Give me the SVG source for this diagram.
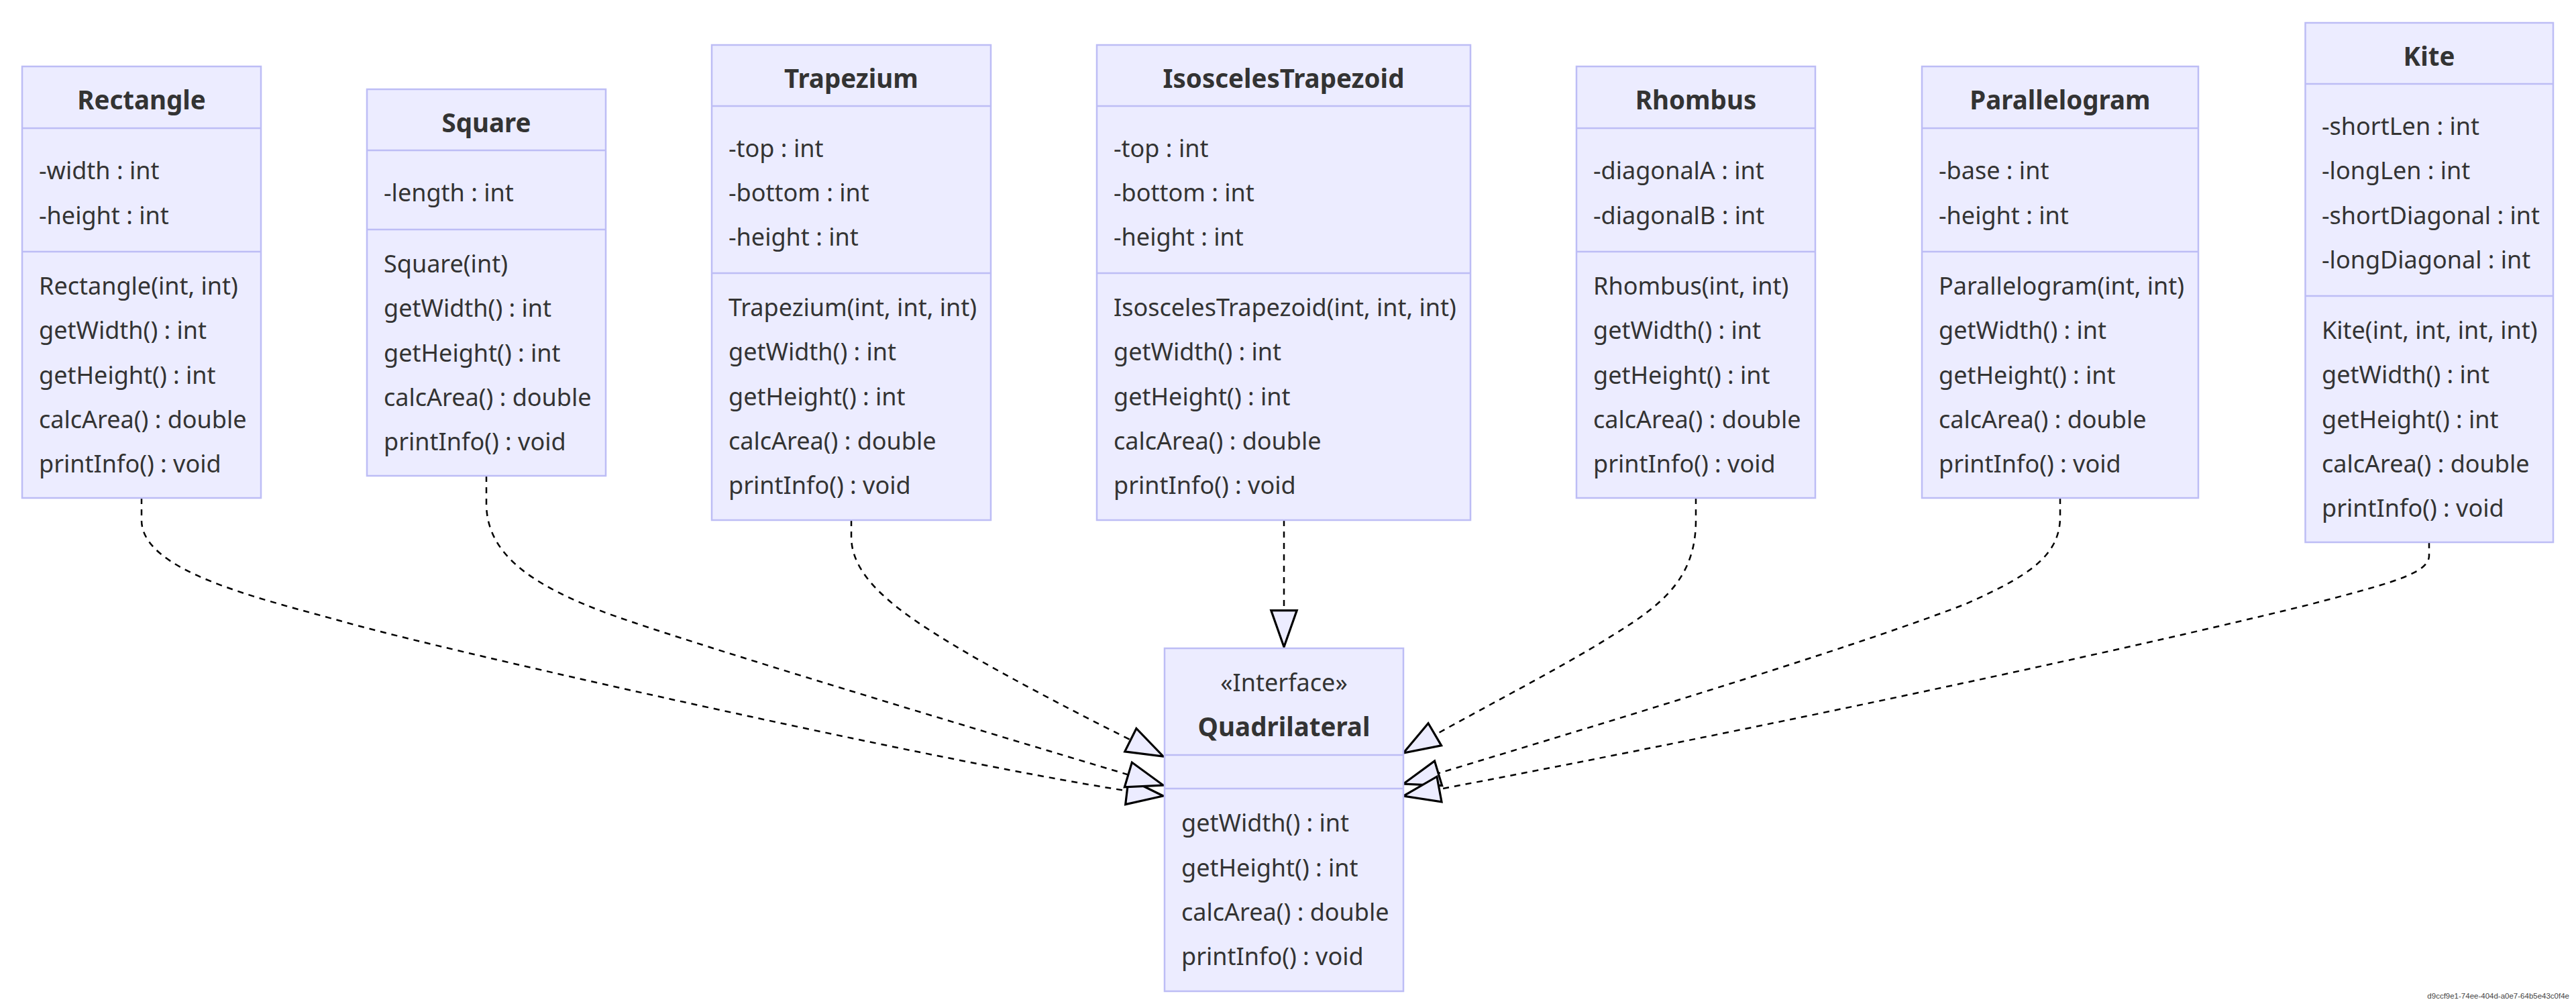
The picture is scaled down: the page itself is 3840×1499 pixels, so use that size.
<svg xmlns="http://www.w3.org/2000/svg" width="3840" height="1499" viewBox="0 0 3840 1499">
<defs>
<style>
.box{fill:#ECECFF;stroke:#BDBDF5;stroke-width:2.5}
.div{stroke:#BDBDF5;stroke-width:2.5}
.t{font-family:"Noto Sans","Open Sans",sans-serif;font-size:36px;fill:#333}
.b{font-family:"Noto Sans","Open Sans",sans-serif;font-size:38.5px;font-weight:bold;fill:#333;text-anchor:middle}
.c{font-family:"Noto Sans","Open Sans",sans-serif;font-size:36px;fill:#333;text-anchor:middle}
.e{fill:none;stroke:#000;stroke-width:2.5;stroke-dasharray:9 8}
.id{font-family:"Liberation Sans",Arial,sans-serif;font-size:11.5px;fill:#444;text-anchor:end}
</style>
<marker id="ext" viewBox="0 0 20 14" refX="18" refY="7" markerUnits="userSpaceOnUse" markerWidth="64" markerHeight="44.8" orient="auto">
<path d="M1,1 V13 L18,7 Z" fill="#ECECFF" stroke="#000" stroke-width="1"/>
</marker>
</defs>
<rect width="3840" height="1499" fill="#fff"/>

<g id="connectors">
<path class="e" marker-end="url(#ext)" d="M211,742 L211,775 C211,850 380,890 507,925 C650,967 1500,1158 1734,1186"/>
<path class="e" marker-end="url(#ext)" d="M725,709 L725,750 C725,830 800,880 946,928 C1100,980 1500,1100 1734,1170"/>
<path class="e" marker-end="url(#ext)" d="M1269,775 L1269,800 C1269,870 1360,925 1450,978 C1550,1035 1650,1085 1734,1127"/>
<path class="e" marker-end="url(#ext)" d="M1914,775 L1914,964"/>
<path class="e" marker-end="url(#ext)" d="M2528,742 L2528,775 C2528,860 2480,900 2405,946 C2320,1000 2180,1070 2092,1122"/>
<path class="e" marker-end="url(#ext)" d="M3071,742 L3071,770 C3071,830 3020,860 2930,900 C2750,970 2350,1090 2092,1168"/>
<path class="e" marker-end="url(#ext)" d="M3621,808 L3621,828 C3621,855 3560,870 3442,901 C3100,985 2500,1110 2092,1186"/>
</g>

<g id="Rectangle">
<rect class="box" x="33" y="99" width="356" height="643"/>
<line class="div" x1="33" y1="191" x2="389" y2="191"/>
<line class="div" x1="33" y1="375" x2="389" y2="375"/>
<text class="b" x="211" y="163">Rectangle</text>
<text class="t" x="58" y="267">-width : int</text>
<text class="t" x="58" y="334">-height : int</text>
<text class="t" x="58" y="439">Rectangle(int, int)</text>
<text class="t" x="58" y="505">getWidth() : int</text>
<text class="t" x="58" y="572">getHeight() : int</text>
<text class="t" x="58" y="638">calcArea() : double</text>
<text class="t" x="58" y="704">printInfo() : void</text>
</g>

<g id="Square">
<rect class="box" x="547" y="133" width="356" height="576"/>
<line class="div" x1="547" y1="224" x2="903" y2="224"/>
<line class="div" x1="547" y1="342" x2="903" y2="342"/>
<text class="b" x="725" y="197">Square</text>
<text class="t" x="572" y="300">-length : int</text>
<text class="t" x="572" y="406">Square(int)</text>
<text class="t" x="572" y="472">getWidth() : int</text>
<text class="t" x="572" y="539">getHeight() : int</text>
<text class="t" x="572" y="605">calcArea() : double</text>
<text class="t" x="572" y="671">printInfo() : void</text>
</g>

<g id="Trapezium">
<rect class="box" x="1061" y="67" width="416" height="708"/>
<line class="div" x1="1061" y1="158" x2="1477" y2="158"/>
<line class="div" x1="1061" y1="407" x2="1477" y2="407"/>
<text class="b" x="1269" y="131">Trapezium</text>
<text class="t" x="1086" y="234">-top : int</text>
<text class="t" x="1086" y="300">-bottom : int</text>
<text class="t" x="1086" y="366">-height : int</text>
<text class="t" x="1086" y="471">Trapezium(int, int, int)</text>
<text class="t" x="1086" y="537">getWidth() : int</text>
<text class="t" x="1086" y="604">getHeight() : int</text>
<text class="t" x="1086" y="670">calcArea() : double</text>
<text class="t" x="1086" y="736">printInfo() : void</text>
</g>

<g id="IsoscelesTrapezoid">
<rect class="box" x="1635" y="67" width="557" height="708"/>
<line class="div" x1="1635" y1="158" x2="2192" y2="158"/>
<line class="div" x1="1635" y1="407" x2="2192" y2="407"/>
<text class="b" x="1913.5" y="131">IsoscelesTrapezoid</text>
<text class="t" x="1660" y="234">-top : int</text>
<text class="t" x="1660" y="300">-bottom : int</text>
<text class="t" x="1660" y="366">-height : int</text>
<text class="t" x="1660" y="471">IsoscelesTrapezoid(int, int, int)</text>
<text class="t" x="1660" y="537">getWidth() : int</text>
<text class="t" x="1660" y="604">getHeight() : int</text>
<text class="t" x="1660" y="670">calcArea() : double</text>
<text class="t" x="1660" y="736">printInfo() : void</text>
</g>

<g id="Rhombus">
<rect class="box" x="2350" y="99" width="356" height="643"/>
<line class="div" x1="2350" y1="191" x2="2706" y2="191"/>
<line class="div" x1="2350" y1="375" x2="2706" y2="375"/>
<text class="b" x="2528" y="163">Rhombus</text>
<text class="t" x="2375" y="267">-diagonalA : int</text>
<text class="t" x="2375" y="334">-diagonalB : int</text>
<text class="t" x="2375" y="439">Rhombus(int, int)</text>
<text class="t" x="2375" y="505">getWidth() : int</text>
<text class="t" x="2375" y="572">getHeight() : int</text>
<text class="t" x="2375" y="638">calcArea() : double</text>
<text class="t" x="2375" y="704">printInfo() : void</text>
</g>

<g id="Parallelogram">
<rect class="box" x="2865" y="99" width="412" height="643"/>
<line class="div" x1="2865" y1="191" x2="3277" y2="191"/>
<line class="div" x1="2865" y1="375" x2="3277" y2="375"/>
<text class="b" x="3071" y="163">Parallelogram</text>
<text class="t" x="2890" y="267">-base : int</text>
<text class="t" x="2890" y="334">-height : int</text>
<text class="t" x="2890" y="439">Parallelogram(int, int)</text>
<text class="t" x="2890" y="505">getWidth() : int</text>
<text class="t" x="2890" y="572">getHeight() : int</text>
<text class="t" x="2890" y="638">calcArea() : double</text>
<text class="t" x="2890" y="704">printInfo() : void</text>
</g>

<g id="Kite">
<rect class="box" x="3436.5" y="34" width="369.5" height="774"/>
<line class="div" x1="3436.5" y1="125" x2="3806" y2="125"/>
<line class="div" x1="3436.5" y1="441" x2="3806" y2="441"/>
<text class="b" x="3621" y="98">Kite</text>
<text class="t" x="3461" y="201">-shortLen : int</text>
<text class="t" x="3461" y="267">-longLen : int</text>
<text class="t" x="3461" y="334">-shortDiagonal : int</text>
<text class="t" x="3461" y="400">-longDiagonal : int</text>
<text class="t" x="3461" y="505">Kite(int, int, int, int)</text>
<text class="t" x="3461" y="571">getWidth() : int</text>
<text class="t" x="3461" y="638">getHeight() : int</text>
<text class="t" x="3461" y="704">calcArea() : double</text>
<text class="t" x="3461" y="770">printInfo() : void</text>
</g>

<g id="Quadrilateral">
<rect class="box" x="1736" y="966" width="356" height="511"/>
<line class="div" x1="1736" y1="1125" x2="2092" y2="1125"/>
<line class="div" x1="1736" y1="1175" x2="2092" y2="1175"/>
<text class="c" x="1914" y="1030">«Interface»</text>
<text class="b" x="1914" y="1097">Quadrilateral</text>
<text class="t" x="1761" y="1239">getWidth() : int</text>
<text class="t" x="1761" y="1306">getHeight() : int</text>
<text class="t" x="1761" y="1372">calcArea() : double</text>
<text class="t" x="1761" y="1438">printInfo() : void</text>
</g>

<text class="id" x="3830" y="1488">d9ccf9e1-74ee-404d-a0e7-64b5e43c0f4e</text>
</svg>
